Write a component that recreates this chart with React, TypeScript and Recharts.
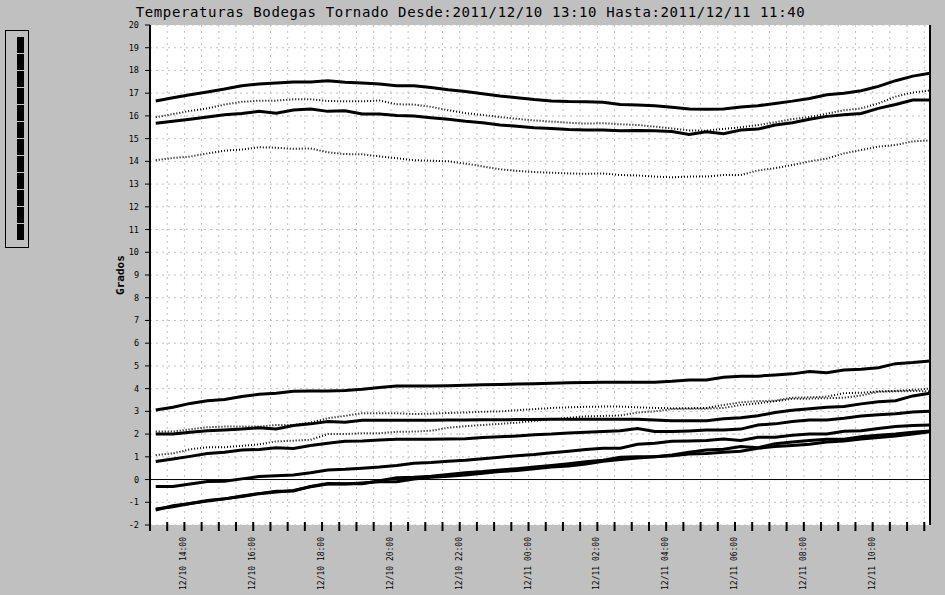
import React from 'react';
import { LineChart, Line, XAxis, YAxis, CartesianGrid, ReferenceLine } from 'recharts';

// minutes since 12/10 13:00
const minutes = [10,40,70,100,130,160,190,220,250,280,310,340,370,400,430,460,490,520,550,580,610,640,670,700,730,760,790,820,850,880,910,940,970,1000,1030,1060,1090,1120,1150,1180,1210,1240,1270,1300,1330,1360];

const s1 = [16.66,16.8,16.93,17.05,17.18,17.33,17.4,17.45,17.49,17.49,17.55,17.48,17.45,17.4,17.33,17.33,17.25,17.15,17.07,16.98,16.88,16.8,16.72,16.66,16.63,16.62,16.6,16.5,16.48,16.45,16.38,16.3,16.29,16.3,16.39,16.45,16.55,16.65,16.77,16.93,17.0,17.11,17.3,17.55,17.75,17.88];
const s2 = [15.94,16.08,16.22,16.33,16.5,16.62,16.67,16.67,16.73,16.73,16.66,16.64,16.64,16.68,16.51,16.5,16.4,16.25,16.12,16.04,15.95,15.87,15.8,15.75,15.7,15.66,15.68,15.63,15.6,15.53,15.45,15.36,15.35,15.43,15.5,15.6,15.72,15.86,15.95,16.1,16.25,16.33,16.55,16.85,17.03,17.12];
const s3 = [15.68,15.76,15.85,15.95,16.05,16.11,16.2,16.12,16.26,16.3,16.2,16.23,16.08,16.08,16.02,16.0,15.92,15.85,15.76,15.7,15.6,15.55,15.48,15.45,15.4,15.38,15.38,15.35,15.36,15.35,15.31,15.18,15.3,15.22,15.38,15.42,15.6,15.7,15.85,15.98,16.05,16.11,16.33,16.5,16.7,16.7];
const s4 = [14.05,14.15,14.21,14.35,14.47,14.52,14.62,14.6,14.55,14.57,14.4,14.32,14.31,14.22,14.14,14.05,14.03,14.0,13.9,13.78,13.65,13.58,13.53,13.5,13.47,13.45,13.47,13.4,13.38,13.33,13.3,13.33,13.33,13.4,13.4,13.6,13.7,13.84,14.0,14.12,14.35,14.5,14.65,14.72,14.88,14.92];
const s5 = [3.06,3.18,3.35,3.47,3.52,3.65,3.75,3.8,3.88,3.9,3.9,3.92,3.97,4.05,4.12,4.12,4.12,4.13,4.15,4.17,4.18,4.2,4.22,4.24,4.26,4.27,4.28,4.28,4.28,4.28,4.32,4.38,4.38,4.5,4.55,4.55,4.6,4.65,4.75,4.7,4.82,4.85,4.92,5.1,5.15,5.22];
const s6 = [2.11,2.11,2.21,2.3,2.33,2.33,2.33,2.4,2.4,2.5,2.7,2.8,2.92,2.92,2.92,2.88,2.9,2.93,2.95,2.98,3.0,3.05,3.1,3.15,3.18,3.2,3.21,3.21,3.18,3.15,3.14,3.14,3.15,3.28,3.4,3.45,3.47,3.6,3.62,3.65,3.8,3.82,3.88,3.9,3.95,4.0];
const s7 = [1.08,1.15,1.33,1.42,1.42,1.48,1.55,1.68,1.71,1.75,2.0,2.0,2.04,2.04,2.1,2.11,2.15,2.28,2.35,2.4,2.45,2.5,2.58,2.65,2.72,2.78,2.8,2.82,2.95,3.0,3.1,3.12,3.12,3.15,3.28,3.35,3.45,3.55,3.56,3.58,3.6,3.7,3.86,3.88,3.9,3.88];
const s8 = [2.0,2.0,2.08,2.15,2.18,2.22,2.28,2.22,2.38,2.45,2.55,2.52,2.61,2.61,2.61,2.61,2.61,2.62,2.62,2.63,2.63,2.64,2.64,2.65,2.65,2.65,2.65,2.65,2.65,2.62,2.59,2.59,2.59,2.68,2.72,2.81,2.95,3.05,3.11,3.18,3.21,3.33,3.42,3.47,3.68,3.8];
const s9 = [0.79,0.9,1.02,1.15,1.2,1.3,1.32,1.4,1.37,1.5,1.6,1.68,1.7,1.74,1.77,1.77,1.77,1.78,1.8,1.85,1.88,1.92,1.97,2.0,2.05,2.08,2.11,2.15,2.25,2.11,2.11,2.14,2.18,2.18,2.22,2.4,2.45,2.55,2.62,2.62,2.7,2.8,2.85,2.9,2.97,3.0];
const s10 = [-0.31,-0.31,-0.2,-0.09,-0.07,0.03,0.13,0.17,0.2,0.3,0.42,0.45,0.5,0.55,0.62,0.72,0.75,0.8,0.85,0.92,0.98,1.05,1.1,1.18,1.25,1.32,1.38,1.38,1.55,1.6,1.68,1.7,1.72,1.78,1.72,1.86,1.86,1.95,2.0,2.0,2.12,2.15,2.25,2.33,2.38,2.4];
const s11 = [-1.34,-1.15,-1.05,-0.95,-0.85,-0.72,-0.62,-0.52,-0.5,-0.3,-0.17,-0.19,-0.18,-0.05,0.08,0.1,0.15,0.22,0.3,0.35,0.42,0.48,0.55,0.62,0.7,0.78,0.85,0.98,1.0,1.0,1.08,1.2,1.3,1.33,1.45,1.4,1.58,1.65,1.72,1.77,1.77,1.88,1.95,2.0,2.08,2.14];
const s12 = [-1.3,-1.2,-1.05,-0.92,-0.85,-0.75,-0.62,-0.55,-0.48,-0.32,-0.2,-0.2,-0.15,-0.1,-0.1,0.02,0.1,0.15,0.2,0.28,0.35,0.4,0.48,0.55,0.6,0.68,0.8,0.88,0.95,1.0,1.05,1.12,1.15,1.2,1.25,1.38,1.45,1.5,1.55,1.65,1.7,1.78,1.85,1.92,2.0,2.1];

const seriesKeys = ['s1','s2','s3','s4','s5','s6','s7','s8','s9','s10','s11','s12'];
const seriesValues = [s1,s2,s3,s4,s5,s6,s7,s8,s9,s10,s11,s12];
const dottedKeys = ['s2','s4','s6','s7'];

const yTicks = [-2,-1,0,1,2,3,4,5,6,7,8,9,10,11,12,13,14,15,16,17,18,19,20];
const xTicks = Array.from({ length: 46 }, (_, i) => i * 30);
const labelMinutes = [60,180,300,420,540,660,780,900,1020,1140,1260];
const tickLabels = ['12/10 14:00','12/10 16:00','12/10 18:00','12/10 20:00','12/10 22:00','12/11 00:00','12/11 02:00','12/11 04:00','12/11 06:00','12/11 08:00','12/11 10:00'];

const title = 'Temperaturas Bodegas Tornado Desde:2011/12/10 13:10 Hasta:2011/12/11 11:40';

const data = minutes.map((m, i) => {
  const row: Record<string, number> = { m };
  seriesKeys.forEach((k, j) => { row[k] = seriesValues[j][i]; });
  return row;
});

const MONO = '"DejaVu Sans Mono", "Liberation Mono", monospace';

const XTick = (props: any) => {
  const { x, y, payload } = props;
  const idx = labelMinutes.indexOf(payload.value);
  return (
    <g>
      <line x1={x} x2={x} y1={y - 3} y2={y + 6} stroke="#000" strokeWidth={2} />
      {idx >= 0 && (
        <text
          transform={`translate(${x + 2},${y + 12}) rotate(-90)`}
          textAnchor="end"
          fontSize={8}
          fontFamily={MONO}
          fill="#000"
        >
          {tickLabels[idx]}
        </text>
      )}
    </g>
  );
};

const GradosLabel = (props: any) => {
  const vb = props.viewBox || { x: 0, y: 25, width: 150, height: 500 };
  const cx = vb.x + vb.width - 26;
  const cy = vb.y + vb.height / 2;
  return (
    <text
      transform={`translate(${cx},${cy}) rotate(-90)`}
      textAnchor="middle"
      fontSize={11}
      fontWeight="bold"
      fontFamily={MONO}
      fill="#000"
    >
      Grados
    </text>
  );
};

export default function App() {
  return (
    <div style={{ position: 'absolute', left: 0, top: 0, width: 945, height: 595, background: '#c0c0c0', overflow: 'hidden' }}>
      <div
        style={{
          position: 'absolute', left: -2, top: 5, width: 945, textAlign: 'center',
          fontFamily: MONO, fontSize: 14, lineHeight: '14px', letterSpacing: 0.62, color: '#000', whiteSpace: 'pre',
        }}
      >
        {title}
      </div>
      <div
        style={{
          position: 'absolute', left: 5, top: 30, width: 22, height: 216,
          border: '1px solid #000', boxSizing: 'content-box',
        }}
      >
        {seriesKeys.map((k, i) => (
          <div
            key={k}
            style={{ position: 'absolute', left: 11, top: 6 + i * 17, width: 7, height: 16, background: '#000' }}
          />
        ))}
      </div>
      <div style={{ position: 'absolute', left: 0, top: 0 }}>
        <LineChart width={945} height={595} data={data} margin={{ top: 25, right: 15, bottom: 0, left: 0 }}>
          <CartesianGrid stroke="#c0c0c0" strokeDasharray="2 4" fill="#ffffff" />
          <XAxis
            dataKey="m"
            type="number"
            domain={[0, 1360]}
            ticks={xTicks}
            interval={0}
            height={70}
            axisLine={false}
            tickLine={false}
            tickSize={0}
            tickMargin={0}
            tick={<XTick />}
            allowDataOverflow
          />
          <YAxis
            type="number"
            domain={[-2, 20]}
            ticks={yTicks}
            interval={0}
            width={150}
            tickSize={5}
            tickMargin={6}
            axisLine={{ stroke: '#000', strokeWidth: 2 }}
            tickLine={{ stroke: '#000', strokeWidth: 1 }}
            tick={{ fill: '#000', fontSize: 8.5, fontFamily: MONO }}
            label={<GradosLabel />}
            allowDataOverflow
          />
          <ReferenceLine y={0} stroke="#000" strokeWidth={1} />
          <ReferenceLine x={1360} stroke="#000" strokeWidth={2} />
          {seriesKeys.map((k) => {
            const dotted = dottedKeys.includes(k);
            return (
              <Line
                key={k}
                type="linear"
                dataKey={k}
                stroke="#000"
                strokeWidth={dotted ? 2 : 3}
                strokeDasharray={dotted ? '1 2' : undefined}
                dot={false}
                activeDot={false}
                isAnimationActive={false}
              />
            );
          })}
        </LineChart>
      </div>
    </div>
  );
}
